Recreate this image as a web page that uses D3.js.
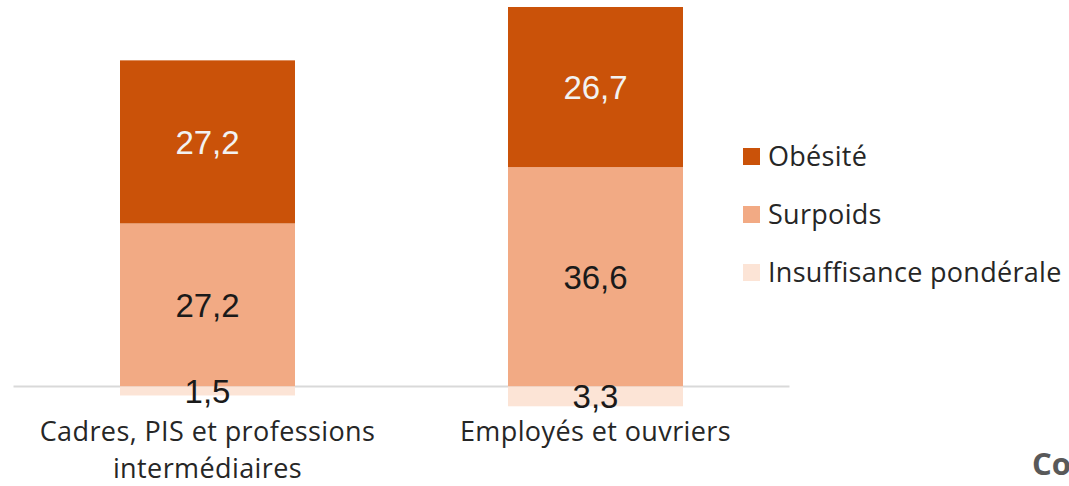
<!DOCTYPE html>
<html>
<head>
<meta charset="utf-8">
<script src="https://cdn.jsdelivr.net/npm/d3@7"></script>
<style>
  body { margin: 0; background: #fff; }
  svg { display: block; }
  .value-label { font-family: "Liberation Sans", Arial, sans-serif; font-size: 33px; text-anchor: middle; }
  .cat-label { font-family: "Open Sans", Lato, sans-serif; font-size: 27px; letter-spacing: 0.4px; fill: #262626; text-anchor: middle; }
  .legend-text { font-family: "Open Sans", Lato, sans-serif; font-size: 27px; letter-spacing: 0.3px; fill: #262626; }
</style>
</head>
<body>
<div id="chart"></div>
<script>
// Categories and series (percentages)
const categories = ['Cadres, PIS et professions intermédiaires', 'Employés et ouvriers'];
const categoryLines = [['Cadres, PIS et professions', 'intermédiaires'], ['Employés et ouvriers']];
const obesite = [27.2, 26.7];
const surpoids = [27.2, 36.6];
const insuffisance = [1.5, 3.3];

const seriesNames = ['Obésité', 'Surpoids', 'Insuffisance pondérale'];
const seriesColors = ['#CA5209', '#F2AA84', '#FCE4D6'];

const width = 1069, height = 486;

const svg = d3.select('#chart')
    .append('svg')
    .attr('width', width)
    .attr('height', height);

const x = d3.scaleBand()
    .domain(categories)
    .range([13.5, 789.5])
    .paddingInner(0.549)
    .paddingOuter(0.2745);

const y = d3.scaleLinear()
    .domain([0, 63.3])
    .range([386.5, 7]);

// Baseline
svg.append('line')
    .attr('x1', x.range()[0])
    .attr('x2', x.range()[1])
    .attr('y1', y(0))
    .attr('y2', y(0))
    .attr('stroke', '#d9d9d9')
    .attr('stroke-width', 2);

// Build segments: surpoids from 0 up, obesite on top, insuffisance below 0
const segments = [];
categories.forEach((c, i) => {
    segments.push({cat: c, y0: 0, y1: surpoids[i], value: surpoids[i], color: seriesColors[1], text: '#1a1a1a'});
    segments.push({cat: c, y0: surpoids[i], y1: surpoids[i] + obesite[i], value: obesite[i], color: seriesColors[0], text: '#f2f2f2'});
    segments.push({cat: c, y0: -insuffisance[i], y1: 0, value: insuffisance[i], color: seriesColors[2], text: '#1a1a1a'});
});

svg.selectAll('.bar')
    .data(segments)
    .enter()
    .append('rect')
    .attr('class', 'bar')
    .attr('x', d => x(d.cat))
    .attr('width', x.bandwidth())
    .attr('y', d => y(d.y1))
    .attr('height', d => y(d.y0) - y(d.y1))
    .attr('fill', d => d.color);

const fmt = v => v.toFixed(1).replace('.', ',');

svg.selectAll('.value-label')
    .data(segments)
    .enter()
    .append('text')
    .attr('class', 'value-label')
    .attr('x', d => x(d.cat) + x.bandwidth() / 2)
    .attr('y', d => (y(d.y0) + y(d.y1)) / 2)
    .attr('dy', '0.36em')
    .attr('fill', d => d.text)
    .text(d => fmt(d.value));

// Category labels
categories.forEach((c, i) => {
    const t = svg.append('text')
        .attr('class', 'cat-label')
        .attr('x', x(c) + x.bandwidth() / 2)
        .attr('y', 441);
    categoryLines[i].forEach((line, j) => {
        t.append('tspan')
            .attr('x', x(c) + x.bandwidth() / 2)
            .attr('dy', j === 0 ? 0 : 37)
            .text(line);
    });
});

// Legend
const legend = svg.append('g').attr('transform', 'translate(743,148)');
seriesNames.forEach((name, i) => {
    const g = legend.append('g').attr('transform', `translate(0,${i * 58})`);
    g.append('rect')
        .attr('width', 17)
        .attr('height', 17)
        .attr('fill', seriesColors[i]);
    g.append('text')
        .attr('class', 'legend-text')
        .attr('x', 25)
        .attr('y', 8.5)
        .attr('dy', '0.35em')
        .text(name);
});

// Cut-off title at the bottom right
svg.append('text')
    .attr('x', 1032)
    .attr('y', 475)
    .attr('font-family', '"Open Sans", sans-serif')
    .attr('font-weight', 'bold')
    .attr('font-size', 31)
    .attr('fill', '#595959')
    .text('Co');
</script>
</body>
</html>
